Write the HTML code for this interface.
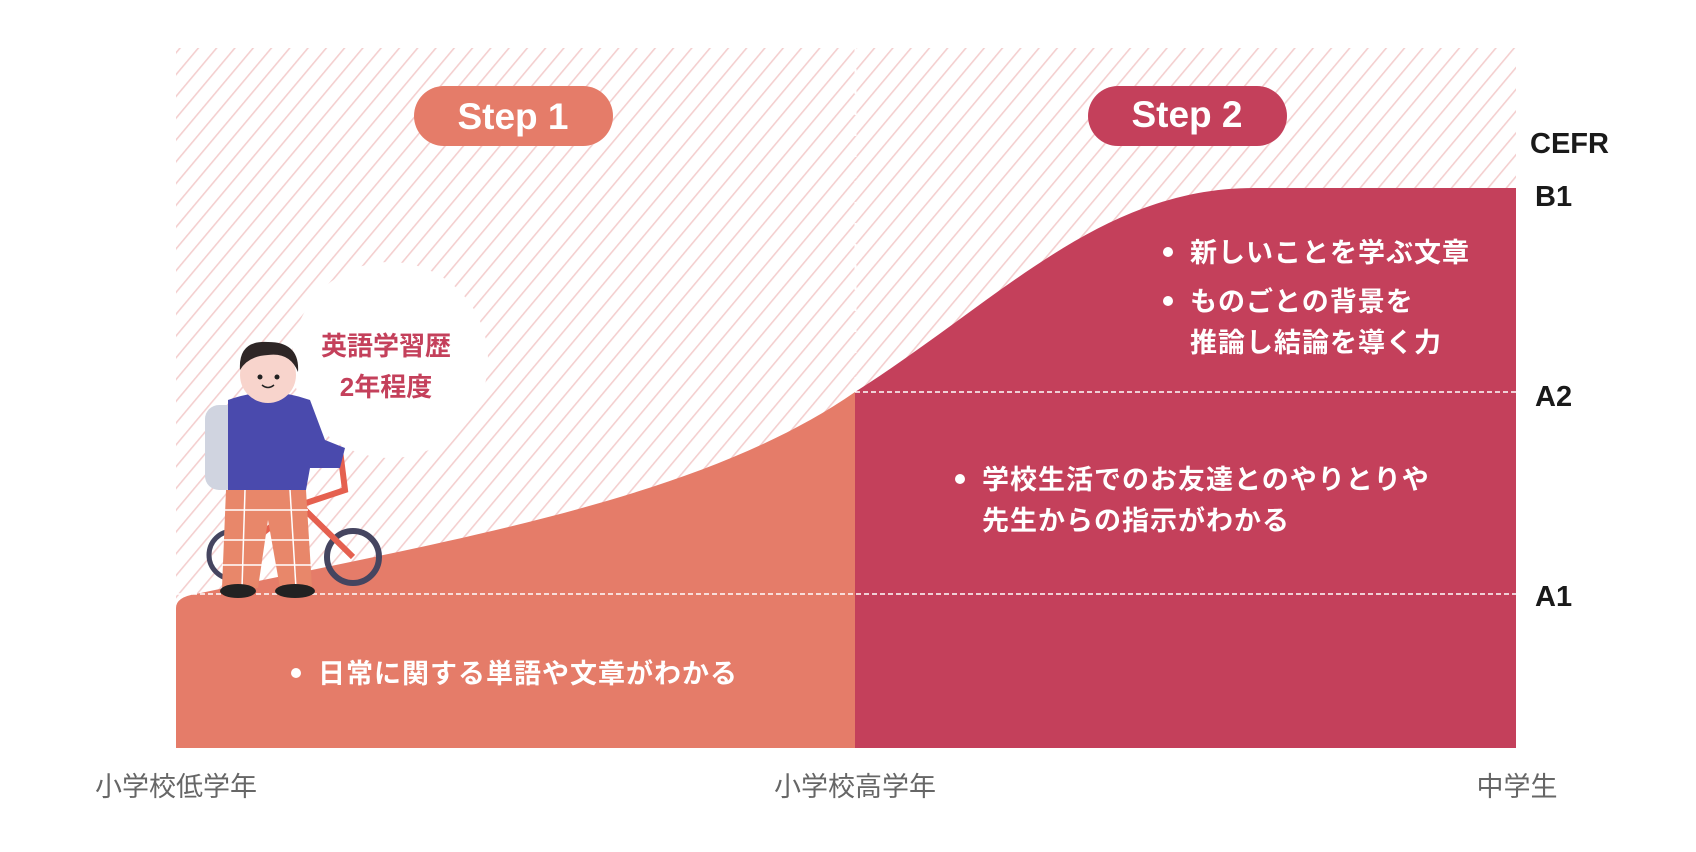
<!DOCTYPE html>
<html><head><meta charset="utf-8"><style>
html,body{margin:0;padding:0;background:#fff;width:1696px;height:852px;overflow:hidden}
svg{display:block}
.j{font-family:"Liberation Sans","Noto Sans CJK JP",sans-serif;font-weight:bold}
</style></head><body>
<svg width="1696" height="852" viewBox="0 0 1696 852" xmlns="http://www.w3.org/2000/svg">
<defs>
<pattern id="h" width="14" height="14" patternUnits="userSpaceOnUse" patternTransform="rotate(40)">
<rect width="14" height="14" fill="#fff"/><rect width="1.6" height="14" fill="#f4cfcf"/>
</pattern>
<clipPath id="pc"><rect x="176" y="48" width="1340" height="700"/></clipPath>
</defs>
<rect x="176" y="48" width="1340" height="700" fill="url(#h)"/>
<line x1="855.5" y1="48" x2="855.5" y2="392" stroke="#fff" stroke-width="2" stroke-dasharray="4 3"/>
<circle cx="390" cy="360" r="98" fill="#fff"/>
<g clip-path="url(#pc)">
<path d="M176,748 V608 Q176,597 196,594 C450,540 700,500 855,392 V748 Z" fill="#e57c69"/>
<path d="M855,748 V392 C1000,300 1100,188 1254,188 H1516 V748 Z" fill="#c4405b"/>
</g>
<line x1="176" y1="594" x2="1516" y2="594" stroke="#fff" stroke-width="1.5" stroke-dasharray="5 3"/>
<line x1="855" y1="392" x2="1516" y2="392" stroke="#fff" stroke-width="1.5" stroke-dasharray="5 3"/>
<rect x="414" y="86" width="199" height="60" rx="30" fill="#e57c69"/>
<text x="513" y="129" text-anchor="middle" class="j" font-size="37" fill="#fff">Step 1</text>
<rect x="1088" y="86" width="199" height="60" rx="30" fill="#c4405b"/>
<text x="1187" y="127" text-anchor="middle" class="j" font-size="37" fill="#fff">Step 2</text>
<g class="j" font-size="29" fill="#1a1a1a">
<text x="1530" y="153">CEFR</text>
<text x="1535" y="206">B1</text>
<text x="1535" y="406">A2</text>
<text x="1535" y="606">A1</text>
</g>
<g class="j" font-size="27" fill="#fff" letter-spacing="1">
<circle cx="296" cy="673" r="5"/><text x="318" y="683">日常に関する単語や文章がわかる</text>
<circle cx="960" cy="479" r="5"/><text x="982" y="489">学校生活でのお友達とのやりとりや</text>
<text x="982" y="530">先生からの指示がわかる</text>
<circle cx="1168" cy="252" r="5"/><text x="1190" y="262">新しいことを学ぶ文章</text>
<circle cx="1168" cy="301" r="5"/><text x="1190" y="311">ものごとの背景を</text>
<text x="1190" y="352">推論し結論を導く力</text>
</g>
<g class="j" font-size="26" fill="#c4405b" text-anchor="middle">
<text x="386" y="355">英語学習歴</text>
<text x="386" y="396">2年程度</text>
</g>
<g class="j" font-size="27" fill="#666" text-anchor="middle">
<text x="176" y="796" font-weight="normal">小学校低学年</text>
<text x="855" y="796" font-weight="normal">小学校高学年</text>
<text x="1517" y="796" font-weight="normal">中学生</text>
</g>
<g>
<circle cx="233" cy="555" r="24" fill="none" stroke="#454560" stroke-width="5"/>
<circle cx="353" cy="557" r="26" fill="none" stroke="#454560" stroke-width="6"/>
<path d="M233,555 L300,505 L353,557 M300,505 L345,490 L340,450" stroke="#e5604f" stroke-width="6" fill="none"/>
<rect x="205" y="405" width="35" height="85" rx="14" fill="#d0d4e0"/>
<path d="M228,400 Q268,385 310,400 L325,440 L345,448 L340,468 L310,468 L306,490 L228,490 Z" fill="#4a4aad"/>
<path d="M226,490 H306 L312,588 H280 L268,520 L258,588 H222 Z" fill="#e8876a"/>
<g stroke="#fff" stroke-width="1.5"><line x1="224" y1="510" x2="308" y2="510"/><line x1="222" y1="540" x2="310" y2="540"/><line x1="222" y1="565" x2="312" y2="565"/><line x1="245" y1="490" x2="242" y2="588"/><line x1="290" y1="490" x2="296" y2="588"/></g>
<ellipse cx="238" cy="591" rx="18" ry="7" fill="#222"/>
<ellipse cx="295" cy="591" rx="20" ry="7" fill="#222"/>
<circle cx="268" cy="375" r="28" fill="#f8d4cc"/>
<path d="M240,370 Q238,340 268,342 Q300,342 298,372 Q290,352 268,355 Q248,356 240,370Z" fill="#2e2626"/>
<circle cx="260" cy="377" r="2.5" fill="#222"/><circle cx="277" cy="377" r="2.5" fill="#222"/>
<path d="M262,385 Q268,390 274,385" stroke="#222" stroke-width="1.5" fill="none"/>
</g>
</svg>
</body></html>
